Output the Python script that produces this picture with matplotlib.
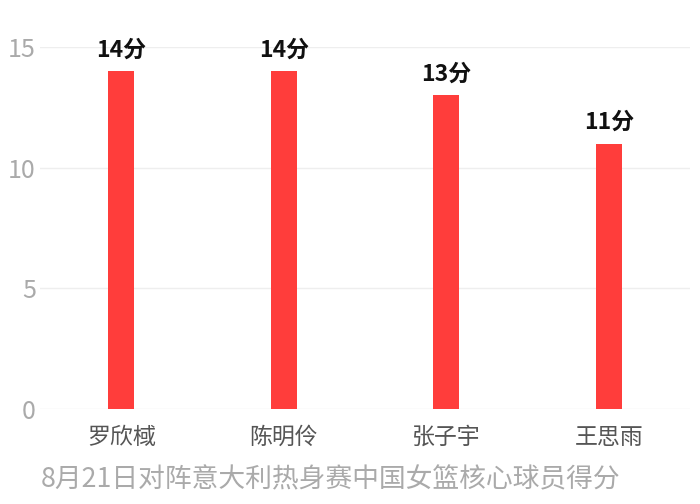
import matplotlib
matplotlib.use("Agg")
import matplotlib.pyplot as plt

plt.rcParams['font.family'] = ['Noto Sans CJK SC', 'DejaVu Sans']

players = ['罗欣棫', '陈明伶', '张子宇', '王思雨']
points = [14, 14, 13, 11]
title = '8月21日对阵意大利热身赛中国女篮核心球员得分'

fig = plt.figure(figsize=(7, 5.04), dpi=100)
ax = fig.add_axes([40/700, 1 - 409/504, 650/700, (409 - 47)/504])

x = range(len(players))
ax.bar(x, points, width=0.16, color='#ff3d3b', zorder=3)
for i, v in zip(x, points):
    ax.text(i, v + 0.4, f'{v}分', ha='center', va='bottom', fontsize=16.5,
            fontweight='bold', color='#111111', clip_on=False)

ax.set_xlim(-0.5, 3.5)
ax.set_ylim(0, 15)
ax.set_yticks([0, 5, 10, 15])
ax.set_xticks(list(x))
ax.set_xticklabels(players, fontsize=16.5, color='#555555')
ax.tick_params(axis='y', labelsize=18, labelcolor='#aaaaaa', length=0, pad=3)
ax.tick_params(axis='x', length=0, pad=12)
ax.grid(axis='y', color='#eeeeee', linewidth=1, zorder=0)
ax.set_axisbelow(True)
for s in ax.spines.values():
    s.set_visible(False)

fig.text(331/700, 1 - 480/504, title, ha='center', va='center', fontsize=19.3, color='#aaaaaa')

fig.savefig('out.png', dpi=100)
